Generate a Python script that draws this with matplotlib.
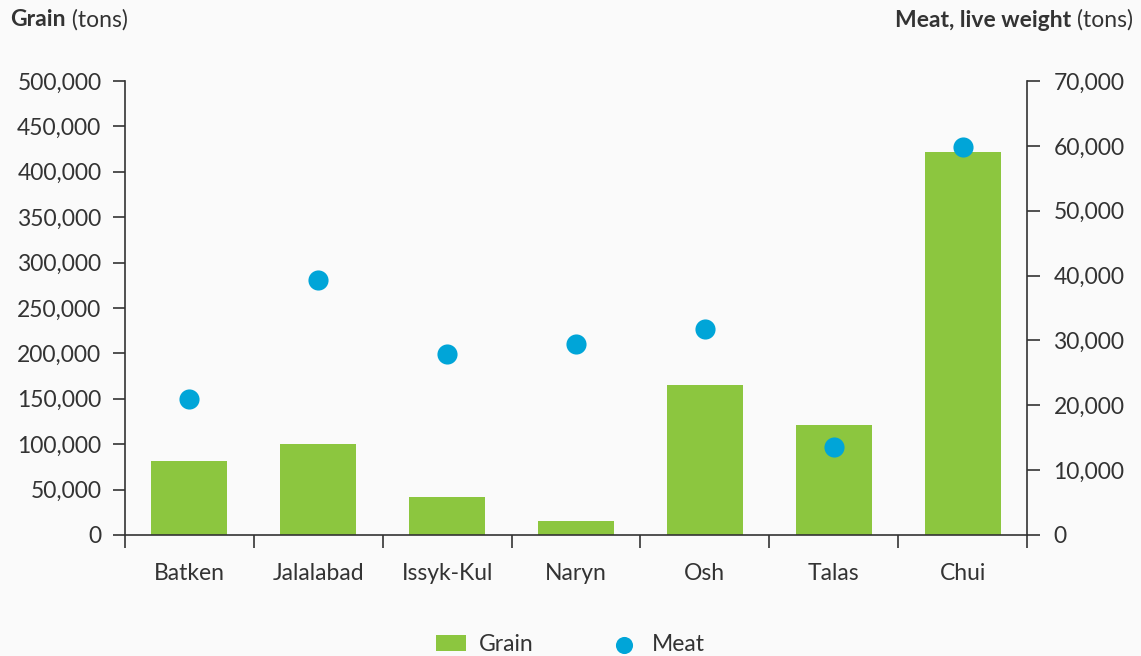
import matplotlib
matplotlib.use("Agg")
import matplotlib.pyplot as plt
import numpy as np
from matplotlib.ticker import FuncFormatter

# data
regions = ["Batken", "Jalalabad", "Issyk-Kul", "Naryn", "Osh", "Talas", "Chui"]
grain = [82000, 100000, 42000, 15500, 165000, 121000, 422000]
meat = [21000, 39300, 27900, 29400, 31800, 13600, 59800]

green = "#8cc63f"
blue = "#00a5d8"
txt = "#333333"
bg = "#fafafa"
fs = 16.5

plt.rcParams["font.family"] = ["Lato", "DejaVu Sans"]
plt.rcParams["text.color"] = txt

fig = plt.figure(figsize=(11.41, 6.56), dpi=100, facecolor=bg)
ax = fig.add_axes([0.1096, 0.1845, 0.7905, 0.692])
ax.set_facecolor(bg)
ax2 = ax.twinx()

x = np.arange(len(regions))
ax.bar(x, grain, width=0.59, color=green, label="Grain", zorder=2)
ax2.scatter(x, meat, s=210, color=blue, label="Meat", zorder=3, linewidths=0)

ax.set_xlim(-0.5, len(regions) - 0.5)
ax.set_ylim(0, 500000)
ax2.set_ylim(0, 70000)
ax.set_yticks(np.arange(0, 500001, 50000))
ax2.set_yticks(np.arange(0, 70001, 10000))
fmt = FuncFormatter(lambda v, p: f"{int(v):,}")
ax.yaxis.set_major_formatter(fmt)
ax2.yaxis.set_major_formatter(fmt)

ax.set_xticks(x)
ax.set_xticklabels(regions)
ax.set_xticks(np.arange(-0.5, len(regions)), minor=True)
ax.tick_params(axis="x", which="major", length=0, pad=20, labelsize=fs, labelcolor=txt)
ax.tick_params(axis="x", which="minor", length=9, width=1.2, color=txt)
ax.tick_params(axis="y", length=9, width=1.2, color=txt, pad=8, labelsize=fs, labelcolor=txt)
ax2.tick_params(axis="y", length=9, width=1.2, color=txt, pad=10, labelsize=fs, labelcolor=txt)

for a in (ax, ax2):
    a.spines["top"].set_visible(False)
    for s in ("left", "right", "bottom"):
        a.spines[s].set_color(txt)
        a.spines[s].set_linewidth(1.2)
ax.spines["right"].set_visible(False)
ax2.spines["left"].set_visible(False)
ax2.spines["bottom"].set_visible(False)

# axis titles
t1 = fig.text(10 / 1141, 1 - 20 / 656, "Grain", fontsize=fs, fontweight="bold", va="center", ha="left")
ax.annotate(" (tons)", xy=(1, 0), xycoords=t1, va="bottom", ha="left", fontsize=fs)
t2 = fig.text(1133 / 1141, 1 - 20 / 656, "(tons)", fontsize=fs, va="center", ha="right")
ax.annotate("Meat, live weight ", xy=(0, 0), xycoords=t2, va="bottom", ha="right",
            fontsize=fs, fontweight="bold")

# legend
h1, l1 = ax.get_legend_handles_labels()
h2, l2 = ax2.get_legend_handles_labels()
fig.legend(h1 + h2, l1 + l2, loc="lower center", bbox_to_anchor=(0.5, -0.03), ncol=2,
           frameon=False, fontsize=fs, columnspacing=3.3, handlelength=1.3, handleheight=0.7,
           handletextpad=0.55, markerscale=0.85)

fig.savefig("out.png", dpi=100, facecolor=bg)
